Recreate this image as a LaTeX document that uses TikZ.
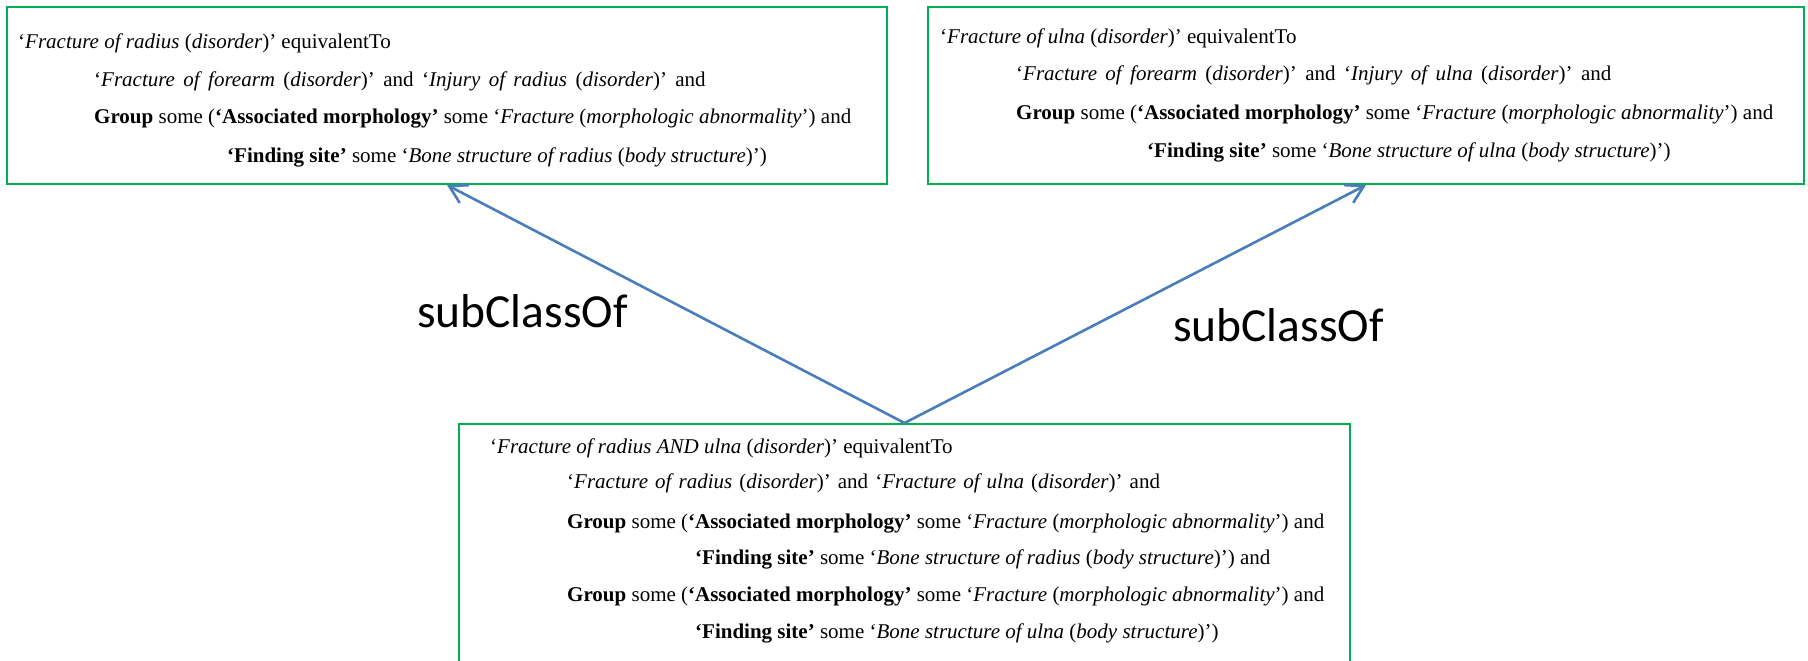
\documentclass[tikz,border=0pt]{standalone}
\usepackage{fontspec}
\setmainfont{Liberation Serif}
\newfontfamily\labelfont{Carlito}
\usetikzlibrary{arrows.meta}
\definecolor{boxgreen}{RGB}{0,176,80}
\definecolor{arrowblue}{RGB}{74,126,187}
\newcommand\mywidesp{\spaceskip=8.4pt\relax}
\newcommand\mymidsp{\spaceskip=7.1pt\relax}
\tikzset{
  box/.style={draw=boxgreen, line width=2pt, inner sep=0pt, fill=white},
  ln/.style={anchor=base west, inner sep=0pt, font=\fontsize{21}{25}\selectfont},
  wideln/.style={ln, font=\fontsize{21}{25}\selectfont\mywidesp},
  midln/.style={ln, font=\fontsize{21}{25}\selectfont\mymidsp},
  lbl/.style={anchor=base west, inner sep=0pt, font=\labelfont\fontsize{47.5}{56}\selectfont},
  arr/.style={draw=arrowblue, line width=2.6pt, -{Straight Barb[length=17pt,width=20pt,line width=2.6pt]}}
}
\begin{document}
\begin{tikzpicture}[x=1pt,y=-1pt]
\useasboundingbox (0,0) rectangle (1808,661);
\clip (0,0) rectangle (1808,661);
\fill[white] (0,0) rectangle (1808,661);
% boxes
\node[box, minimum width=880pt, minimum height=177pt] (b1) at (447,95.5) {};
\node[box, minimum width=876pt, minimum height=177pt] (b2) at (1366,95.5) {};
\node[box, minimum width=891pt, minimum height=300pt] (b3) at (904.5,574) {};
% box 1 text
\node[ln] (t11) at (18,49) {‘\textit{Fracture of radius} (\textit{disorder})’ equivalentTo};
\node[wideln] (t12) at (94,86) {‘\textit{Fracture of forearm} (\textit{disorder})’ and ‘\textit{Injury of radius} (\textit{disorder})’ and};
\node[ln] (t13) at (94,124) {\textbf{Group} some (\textbf{‘Associated morphology’} some ‘\textit{Fracture} (\textit{morphologic abnormality}’) and};
\node[ln] (t14) at (227,162) {\textbf{‘Finding site’} some ‘\textit{Bone structure of radius} (\textit{body structure})’)};
% box 2 text
\node[ln] (t21) at (940,44) {‘\textit{Fracture of ulna} (\textit{disorder})’ equivalentTo};
\node[wideln] (t22) at (1016,81) {‘\textit{Fracture of forearm} (\textit{disorder})’ and ‘\textit{Injury of ulna} (\textit{disorder})’ and};
\node[ln] (t23) at (1016,119) {\textbf{Group} some (\textbf{‘Associated morphology’} some ‘\textit{Fracture} (\textit{morphologic abnormality}’) and};
\node[ln] (t24) at (1147,157) {\textbf{‘Finding site’} some ‘\textit{Bone structure of ulna} (\textit{body structure})’)};
% box 3 text
\node[ln] (t31) at (490,453) {‘\textit{Fracture of radius AND ulna} (\textit{disorder})’ equivalentTo};
\node[midln] (t32) at (567,488) {‘\textit{Fracture of radius} (\textit{disorder})’ and ‘\textit{Fracture of ulna} (\textit{disorder})’ and};
\node[ln] (t33) at (567,528) {\textbf{Group} some (\textbf{‘Associated morphology’} some ‘\textit{Fracture} (\textit{morphologic abnormality}’) and};
\node[ln] (t34) at (695,564) {\textbf{‘Finding site’} some ‘\textit{Bone structure of radius} (\textit{body structure})’) and};
\node[ln] (t35) at (567,601) {\textbf{Group} some (\textbf{‘Associated morphology’} some ‘\textit{Fracture} (\textit{morphologic abnormality}’) and};
\node[ln] (t36) at (695,638) {\textbf{‘Finding site’} some ‘\textit{Bone structure of ulna} (\textit{body structure})’)};
% arrows
\draw[arr] (b3.north) -- (b1.south);
\draw[arr] (b3.north) -- (b2.south);
% labels
\node[lbl] (l1) at (417,327) {subClassOf};
\node[lbl] (l2) at (1173,341) {subClassOf};
\end{tikzpicture}
\end{document}
